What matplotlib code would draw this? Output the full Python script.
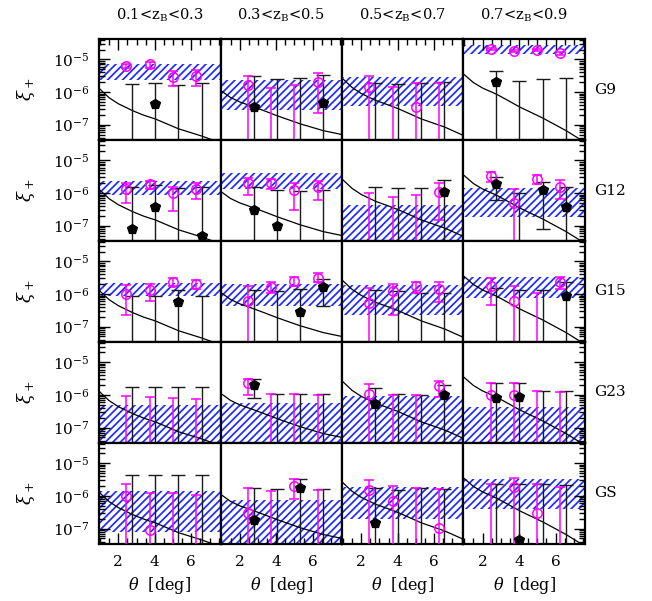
import numpy as np
import matplotlib
matplotlib.use('Agg')
import matplotlib.pyplot as plt
from matplotlib.ticker import LogLocator, MultipleLocator, NullFormatter

# dpi choisi pour l'écartement des hachures ; tailles en points x K
DPI = 90
K = 100 / DPI

plt.rcParams['font.family'] = 'DejaVu Serif'
plt.rcParams['mathtext.fontset'] = 'dejavuserif'
plt.rcParams['hatch.linewidth'] = 1.4

nan = np.nan
B = 1e-9  # barre qui sort par le bas du cadre

col_titles = [r'0.1<z$_{\rm B}$<0.3', r'0.3<z$_{\rm B}$<0.5',
              r'0.5<z$_{\rm B}$<0.7', r'0.7<z$_{\rm B}$<0.9']
row_names = ['G9', 'G12', 'G15', 'G23', 'GS']

theta_mag = [2.44, 3.72, 4.99, 6.26]
theta_blk = [2.76, 4.02, 5.29, 6.56]

# courbe théorique, une par tranche en z
curve_theta = [0.95, 1.5, 2.0, 2.78, 3.4, 4.03, 5.3, 6.57, 7.6]
curve_xi = [
    [1.3e-6, 6.7e-7, 4.4e-7, 2.7e-7, 1.95e-7, 1.5e-7, 7.5e-8, 4.5e-8, 2.8e-8],
    [1.13e-6, 6.8e-7, 5.0e-7, 3.5e-7, 2.6e-7, 1.9e-7, 1.07e-7, 6.6e-8, 5.0e-8],
    [2.7e-6, 1.39e-6, 9.1e-7, 5.6e-7, 4.2e-7, 3.1e-7, 1.5e-7, 8.5e-8, 4.7e-8],
    [3.6e-6, 1.95e-6, 1.33e-6, 8.5e-7, 5.5e-7, 3.5e-7, 1.6e-7, 6.6e-8, 2.9e-8],
]

# bandes hachurées (ligne = champ, colonne = tranche en z)
band_lo = [
    [2.3e-6, 2.9e-7, 3.7e-7, 1.45e-5],
    [9.0e-7, 1.35e-6, B, 1.85e-7],
    [8.5e-7, 4.4e-7, 2.3e-7, 7.8e-7],
    [B, B, B, B],
    [8.0e-8, B, 2.0e-7, 3.9e-7],
]
band_hi = [
    [7.0e-6, 2.3e-6, 2.9e-6, 2.8e-5],
    [2.4e-6, 4.0e-6, 4.4e-7, 1.47e-6],
    [2.1e-6, 2.05e-6, 1.95e-6, 3.3e-6],
    [5.0e-7, 5.8e-7, 9.0e-7, 4.4e-7],
    [1.4e-6, 7.5e-7, 1.9e-6, 3.3e-6],
]

# points magenta (cercles ouverts)
mag_val = [
    [[6.3e-6, 7.1e-6, 2.9e-6, 3.2e-6], [1.6e-6, nan, nan, 2.1e-6],
     [1.4e-6, nan, 3.5e-7, nan], [2.1e-5, 1.8e-5, 1.9e-5, 1.55e-5]],
    [[1.37e-6, 1.85e-6, 9.8e-7, 1.3e-6], [2.1e-6, 2.1e-6, 1.25e-6, 1.58e-6],
     [nan, nan, nan, 1.07e-6], [3.3e-6, 5.0e-7, 2.6e-6, 1.58e-6]],
    [[1.0e-6, 1.37e-6, 2.4e-6, 2.05e-6], [6.0e-7, 1.6e-6, 2.5e-6, 3.1e-6],
     [5.3e-7, 1.2e-6, 1.75e-6, 1.4e-6], [1.8e-6, 6.3e-7, nan, 2.4e-6]],
    [[nan, nan, nan, nan], [2.3e-6, nan, nan, nan],
     [1.07e-6, nan, nan, 1.86e-6], [1.0e-6, 1.0e-6, nan, nan]],
    [[1.0e-6, 8.8e-8, nan, nan], [3.0e-7, nan, 2.0e-6, nan],
     [1.5e-6, 7.0e-7, nan, 1.05e-7], [nan, 1.9e-6, 3.0e-7, nan]],
]
mag_lo = [
    [[5.6e-6, 5.4e-6, 1.5e-6, 1.5e-6], [B, B, B, 2.3e-7],
     [B, B, B, B], [1.9e-5, 1.65e-5, 1.75e-5, 1.4e-5]],
    [[5.0e-7, 1.37e-6, 2.8e-7, 6.4e-7], [8.6e-7, 1.3e-6, 3.0e-7, 6.0e-7],
     [B, B, B, 1.5e-7], [2.2e-6, B, 1.85e-6, 6.4e-7]],
    [[2.2e-7, 6.0e-7, 1.8e-6, 1.4e-6], [B, 1.1e-6, 1.8e-6, 2.3e-6],
     [B, 2.3e-7, 1.1e-6, 5.6e-7], [4.6e-7, B, B, 1.4e-6]],
    [[B, B, B, B], [1.0e-6, B, B, B],
     [B, B, B, 8.6e-7], [B, B, B, B]],
    [[B, B, B, B], [B, B, 7.9e-7, B],
     [B, B, B, B], [B, B, B, B]],
]
mag_hi = [
    [[7.0e-6, 8.6e-6, 4.4e-6, 4.7e-6], [3.1e-6, 1.37e-6, 1.65e-6, 3.9e-6],
     [3.0e-6, 1.4e-6, 1.9e-6, 1.9e-6], [2.3e-5, 1.95e-5, 2.05e-5, 1.7e-5]],
    [[2.1e-6, 2.4e-6, 1.58e-6, 2.1e-6], [2.8e-6, 2.6e-6, 2.0e-6, 2.4e-6],
     [1.03e-6, 7.8e-7, 8.6e-7, 2.0e-6], [4.4e-6, 1.37e-6, 3.5e-6, 2.5e-6]],
    [[1.9e-6, 2.05e-6, 3.1e-6, 2.6e-6], [1.75e-6, 2.4e-6, 3.3e-6, 4.3e-6],
     [1.5e-6, 2.05e-6, 2.4e-6, 2.3e-6], [3.0e-6, 1.8e-6, 1.1e-6, 3.3e-6]],
    [[9.0e-7, 8.6e-7, 7.9e-7, 7.6e-7], [3.1e-6, 1.1e-6, 1.07e-6, 1.03e-6],
     [2.1e-6, 1.0e-6, 1.0e-6, 2.6e-6], [2.4e-6, 2.4e-6, 1.3e-6, 1.22e-6]],
    [[2.25e-6, 1.2e-6, 1.2e-6, 1.1e-6], [1.8e-6, 1.4e-6, 3.3e-6, 1.5e-6],
     [3.0e-6, 2.0e-6, 1.7e-6, 1.58e-6], [2.25e-6, 3.6e-6, 2.4e-6, 1.9e-6]],
]

# points noirs (pentagones)
blk_val = [
    [[nan, 4.4e-7, nan, nan], [3.5e-7, nan, nan, 4.6e-7],
     [nan, nan, nan, nan], [2.0e-6, nan, nan, nan]],
    [[8.0e-8, 3.8e-7, nan, 5.0e-8], [3.0e-7, 1.0e-7, nan, nan],
     [nan, nan, nan, 1.07e-6], [1.95e-6, nan, 1.25e-6, 3.8e-7]],
    [[nan, nan, 5.6e-7, nan], [nan, nan, 2.9e-7, 1.6e-6],
     [nan, nan, nan, nan], [nan, nan, nan, 9.0e-7]],
    [[nan, nan, nan, nan], [2.05e-6, nan, nan, nan],
     [5.3e-7, nan, nan, 1.0e-6], [7.9e-7, 8.6e-7, nan, nan]],
    [[nan, nan, nan, nan], [1.9e-7, nan, 1.7e-6, nan],
     [1.5e-7, nan, nan, nan], [nan, 4.4e-8, nan, nan]],
]
blk_lo = [
    [[B, B, B, B], [B, B, B, B], [B, B, B, B], [B, B, B, B]],
    [[B, B, B, B], [B, B, B, B], [B, B, B, B], [6.2e-7, B, 8.0e-8, B]],
    [[B, B, B, B], [B, B, B, 4.4e-7], [B, B, B, B], [B, B, B, B]],
    [[B, B, B, B], [7.9e-7, B, B, B], [B, B, B, B], [B, B, B, B]],
    [[B, B, B, B], [B, B, B, B], [B, B, B, B], [B, B, B, B]],
]
blk_hi = [
    [[1.73e-6, 1.9e-6, 1.7e-6, 1.9e-6], [3.1e-6, 2.6e-6, 2.7e-6, 3.3e-6],
     [1.9e-6, 1.75e-6, 1.9e-6, 2.0e-6], [4.4e-6, 2.2e-6, 2.5e-6, 2.7e-6]],
    [[1.58e-6, 1.8e-6, 1.47e-6, 1.58e-6], [1.58e-6, 1.22e-6, 1.17e-6, 1.22e-6],
     [1.58e-6, 1.47e-6, 1.47e-6, 2.5e-6], [3.2e-6, 1.03e-6, 2.2e-6, 1.54e-6]],
    [[9.0e-7, 8.4e-7, 1.37e-6, 9.0e-7], [1.3e-6, 1.2e-6, 1.4e-6, 2.9e-6],
     [1.3e-6, 1.2e-6, 1.07e-6, 1.1e-6], [1.5e-6, 1.37e-6, 1.3e-6, 2.3e-6]],
    [[1.75e-6, 1.75e-6, 1.75e-6, 1.75e-6], [3.1e-6, 1.1e-6, 1.1e-6, 1.07e-6],
     [1.6e-6, 1.07e-6, 1.03e-6, 2.05e-6], [2.3e-6, 2.3e-6, 1.37e-6, 1.37e-6]],
    [[4.3e-6, 4.3e-6, 4.3e-6, 4.3e-6], [1.8e-6, 1.6e-6, 3.3e-6, 1.6e-6],
     [1.8e-6, 1.5e-6, 1.7e-6, 1.6e-6], [2.4e-6, 2.25e-6, 2.4e-6, 2.15e-6]],
]

MAGENTA = '#ff00ff'
BAND = '#1f2bff'


def draw_bars(ax, xs, vals, los, his, color, capsize, lw):
    for x, v, lo, hi in zip(xs, vals, los, his):
        y = v if np.isfinite(v) else hi
        ax.errorbar([x], [y], yerr=[[y - lo], [hi - y]], fmt='none',
                    ecolor=color, elinewidth=lw, capsize=capsize,
                    capthick=lw, zorder=3)


fig, axes = plt.subplots(5, 4, figsize=(652 / DPI, 601 / DPI), dpi=DPI,
                         sharex=True, sharey=True)
fig.subplots_adjust(left=0.152, right=0.897, bottom=0.095, top=0.935,
                    wspace=0, hspace=0)

for r in range(5):
    for c in range(4):
        ax = axes[r, c]
        ax.set_yscale('log')
        ax.axhspan(band_lo[r][c], band_hi[r][c], facecolor='none',
                   edgecolor=BAND, hatch='////', linewidth=0, zorder=1)
        ax.plot(curve_theta, curve_xi[c], color='black', lw=0.9 * K, zorder=2)

        draw_bars(ax, theta_blk, blk_val[r][c], blk_lo[r][c], blk_hi[r][c],
                  '#1a1a1a', 5 * K, 1.0 * K)
        draw_bars(ax, theta_mag, mag_val[r][c], mag_lo[r][c], mag_hi[r][c],
                  MAGENTA, 3.8 * K, 1.1 * K)
        ax.plot(theta_mag, mag_val[r][c], 'o', ms=6.8 * K, mfc='none',
                mec=MAGENTA, mew=1.1 * K, zorder=4)
        ax.plot(theta_blk, blk_val[r][c], 'p', ms=7 * K, color='black',
                zorder=5)

        for s in ax.spines.values():
            s.set_linewidth(1.6 * K)

        ax.tick_params(which='both', direction='in', width=1.0 * K,
                       top=(r == 0), bottom=(r == 4),
                       left=(c == 0), right=(c == 3),
                       labelleft=(c == 0), labelbottom=(r == 4),
                       labelsize=11 * K)
        ax.tick_params(which='major', length=8 * K, pad=7 * K)
        ax.tick_params(which='minor', length=4.5 * K)
        ax.tick_params(axis='x', which='major', pad=8 * K)

        if r == 0:
            ax.text(0.5, 1.24, col_titles[c], transform=ax.transAxes,
                    ha='center', va='center', fontsize=10.5 * K)
        if c == 3:
            ax.text(1.08, 0.5, row_names[r], transform=ax.transAxes,
                    ha='left', va='center', fontsize=11 * K)
        if c == 0:
            ax.text(-0.6, 0.5, r'$\xi_+$', transform=ax.transAxes,
                    rotation=90, ha='center', va='center', fontsize=13 * K)
        if r == 4:
            ax.text(0.5, -0.41, r'$\theta$  [deg]', transform=ax.transAxes,
                    ha='center', va='center', fontsize=11.5 * K)

ax0 = axes[0, 0]
ax0.set_xlim(0.95, 7.6)
ax0.set_ylim(3.4e-8, 4.2e-5)
ax0.xaxis.set_major_locator(MultipleLocator(2))
ax0.xaxis.set_minor_locator(MultipleLocator(0.5))
ax0.yaxis.set_major_locator(LogLocator(base=10))
ax0.yaxis.set_minor_locator(LogLocator(base=10, subs=np.arange(2, 10)))
ax0.yaxis.set_minor_formatter(NullFormatter())

fig.savefig('out.png', dpi=DPI)
